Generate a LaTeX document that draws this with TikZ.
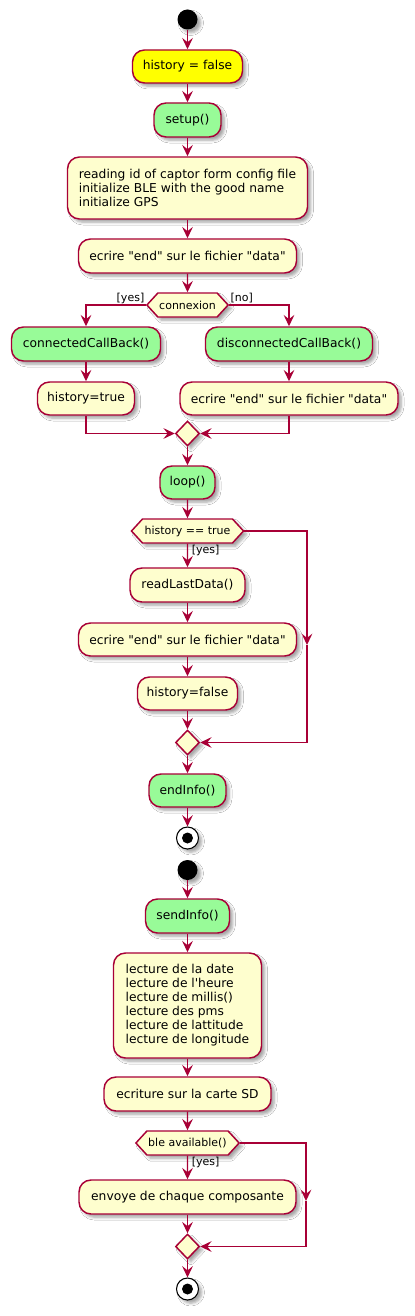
\documentclass[tikz,border=0pt]{standalone}
\usepackage{fontspec}
\setmainfont{DejaVu Sans}
\usetikzlibrary{arrows.meta,shapes.geometric,shapes.symbols,shadows.blur}
\definecolor{pborder}{HTML}{A80036}
\definecolor{pfill}{HTML}{FEFECE}
\definecolor{pgreen}{HTML}{98FB98}
\definecolor{pyellow}{HTML}{FFFF00}
\newcommand\uu{0.75pt}
\newcommand\qq{\textquotedbl}
\begin{document}
\begin{tikzpicture}[x=0.75pt,y=-0.75pt,
  shad/.style={blur shadow={shadow xshift=2.5pt,shadow yshift=-2.5pt,shadow blur radius=2pt,shadow opacity=35}},
  act/.style={draw=pborder,fill=pfill,line width=1.1pt,rounded corners=9pt,inner sep=0pt,align=center,font=\fontsize{9.2}{10.5}\selectfont,shad},
  hex/.style={signal,signal to=west and east,signal pointer angle=95,draw=pborder,fill=pfill,line width=1.1pt,minimum height=24*\uu,inner sep=1pt,font=\fontsize{8.25}{10}\selectfont,shad},
  merge/.style={diamond,draw=pborder,fill=pfill,line width=1.1pt,minimum width=24*\uu,minimum height=25*\uu,inner sep=0pt,shad},
  startc/.style={circle,fill=black,minimum size=20*\uu,inner sep=0pt,shad},
  stopc/.style={circle,draw=black,fill=white,line width=0.8pt,minimum size=22*\uu,inner sep=0pt,shad,
    path picture={\fill[black] (path picture bounding box.center) circle (5.5*\uu);}},
  lbl/.style={inner sep=1pt,font=\fontsize{8.25}{10}\selectfont},
  flow/.style={draw=pborder,line width=1.1pt,-{Stealth[length=8.5pt,width=8pt,inset=3.2pt]}},
  plain/.style={draw=pborder,line width=1.1pt}]
\useasboundingbox (0,0) rectangle (414,1316);
\fill[white] (0,0) rectangle (414,1316);

% first part
\node[startc] (s1) at (187.5,19.5) {};
\node[act,fill=pyellow,minimum width=110*\uu,minimum height=33*\uu] (hf) at (187.5,66.5) {history = false};
\node[act,fill=pgreen,minimum width=67*\uu,minimum height=34*\uu] (setup) at (187.5,120) {setup()};
\node[act,align=left,minimum width=240*\uu,minimum height=62*\uu] (read) at (187.5,188) {reading id of captor form config file\\initialize BLE with the good name\\initialize GPS};
\node[act,minimum width=218*\uu,minimum height=34*\uu] (e1) at (187.5,256) {ecrire \qq end\qq{} sur le fichier \qq data\qq};
\node[hex,minimum width=81*\uu] (con) at (187.5,305) {connexion};
\node[lbl,anchor=south east] (yes1) at (con.west) {[yes]};
\node[lbl,anchor=south west] (no1) at (con.east) {[no]};
\node[act,fill=pgreen,minimum width=149*\uu,minimum height=34*\uu] (ccb) at (86,344) {connectedCallBack()};
\node[act,fill=pgreen,minimum width=167*\uu,minimum height=34*\uu] (dcb) at (289,344) {disconnectedCallBack()};
\node[act,minimum width=97*\uu,minimum height=33*\uu] (ht) at (86,398.5) {history=true};
\node[act,minimum width=218*\uu,minimum height=33*\uu] (e2) at (289,398.5) {ecrire \qq end\qq{} sur le fichier \qq data\qq};
\node[merge] (m1) at (187.5,433.5) {};
\node[act,fill=pgreen,minimum width=55*\uu,minimum height=33*\uu] (loop) at (187.5,482.5) {loop()};
\node[hex,minimum width=112*\uu] (hist) at (187.5,531) {history == true};
\node[lbl,anchor=north west] (yes2) at ([xshift=2pt]hist.south) {[yes]};
\node[act,minimum width=115*\uu,minimum height=34*\uu] (rld) at (187.5,585) {readLastData()};
\node[act,minimum width=218*\uu,minimum height=33*\uu] (e3) at (187.5,639.5) {ecrire \qq end\qq{} sur le fichier \qq data\qq};
\node[act,minimum width=100*\uu,minimum height=33*\uu] (hfa) at (187.5,693.5) {history=false};
\node[merge] (m2) at (187.5,742.5) {};
\coordinate (r1) at (307,531);
\coordinate (r1m) at (307,645);
\coordinate (r1b) at (307,742.5);
\node[act,fill=pgreen,minimum width=77*\uu,minimum height=33*\uu] (endi) at (187.5,790.5) {endInfo()};
\node[stopc] (t1) at (187.5,838) {};

% second part
\node[startc] (s2) at (187.5,870) {};
\node[act,fill=pgreen,minimum width=84*\uu,minimum height=34*\uu] (send) at (187.5,916) {sendInfo()};
\node[act,align=left,minimum width=148*\uu,minimum height=105*\uu] (lec) at (187.5,1005.5) {lecture de la date\\lecture de l\textquotesingle heure\\lecture de millis()\\lecture des pms\\lecture de lattitude\\lecture de longitude};
\node[act,minimum width=167*\uu,minimum height=34*\uu] (sd) at (187.5,1094) {ecriture sur la carte SD};
\node[hex,minimum width=103*\uu] (ble) at (187.5,1143) {ble available()};
\node[lbl,anchor=north west] (yes3) at ([xshift=2pt]ble.south) {[yes]};
\node[act,minimum width=217*\uu,minimum height=34*\uu] (env) at (187.5,1197) {envoye de chaque composante};
\node[merge] (m3) at (187.5,1246.5) {};
\coordinate (r2) at (306,1143);
\coordinate (r2m) at (306,1201);
\coordinate (r2b) at (306,1246.5);
\node[stopc] (t2) at (187.5,1289) {};

% connectors
\draw[flow] (s1) -- (hf);
\draw[flow] (hf) -- (setup);
\draw[flow] (setup) -- (read);
\draw[flow] (read) -- (e1);
\draw[flow] (e1) -- (con);
\draw[flow] (con.west) -| (ccb.north);
\draw[flow] (con.east) -| (dcb.north);
\draw[flow] (ccb) -- (ht);
\draw[flow] (dcb) -- (e2);
\draw[flow] (ht.south) |- (m1.west);
\draw[flow] (e2.south) |- (m1.east);
\draw[flow] (m1) -- (loop);
\draw[flow] (loop) -- (hist);
\draw[flow] (hist) -- (rld);
\draw[flow] (rld) -- (e3);
\draw[flow] (e3) -- (hfa);
\draw[flow] (hfa) -- (m2);
\draw[flow] (hist.east) -- (r1) -- (r1m);
\draw[flow] (r1m) -- (r1b) -- (m2.east);
\draw[flow] (m2) -- (endi);
\draw[flow] (endi) -- (t1);

\draw[flow] (s2) -- (send);
\draw[flow] (send) -- (lec);
\draw[flow] (lec) -- (sd);
\draw[flow] (sd) -- (ble);
\draw[flow] (ble) -- (env);
\draw[flow] (env) -- (m3);
\draw[flow] (ble.east) -- (r2) -- (r2m);
\draw[flow] (r2m) -- (r2b) -- (m3.east);
\draw[flow] (m3) -- (t2);
\end{tikzpicture}
\end{document}
